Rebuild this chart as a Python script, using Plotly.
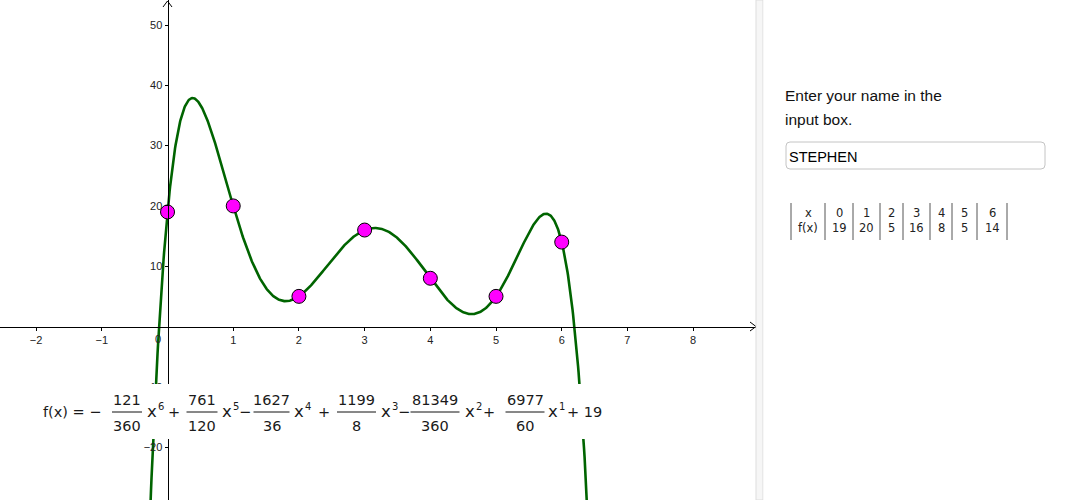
import numpy as np
import plotly.graph_objects as go

W, H = 1083, 500

# ---- data ----
x_pts = [0, 1, 2, 3, 4, 5, 6]
y_pts = [19, 20, 5, 16, 8, 5, 14]
coef_num = [-121, 761, -1627, 1199, -81349, 6977, 19]
coef_den = [360, 120, 36, 8, 360, 60, 1]
coef_pow = [6, 5, 4, 3, 2, 1, 0]
x_ticks = [-2, -1, 1, 2, 3, 4, 5, 6, 7, 8]
y_ticks = [-20, -10, 10, 20, 30, 40, 50]
table_x = ["x", "0", "1", "2", "3", "4", "5", "6"]
table_f = ["f(x)", "19", "20", "5", "16", "8", "5", "14"]
name_text = "STEPHEN"
prompt_lines = ["Enter your name in the", "input box."]

# curve of the function shown in the chart
xc = np.linspace(-0.35, 6.5, 900)
yc = np.zeros_like(xc)
for n, d, p in zip(coef_num, coef_den, coef_pow):
    yc += n / d * xc ** p


def px(v):
    return v / W


def py(v):
    return 1 - v / H


X_MIN, X_MAX = -2.55, 8.957
Y_MIN, Y_MAX = -28.77, 54.15
PLOT_R = 756  # pixel right edge of graphics view

fig = go.Figure()
fig.add_trace(go.Scatter(x=xc, y=yc, mode="lines",
                         line=dict(color="#006400", width=2.6),
                         hoverinfo="skip", showlegend=False))
fig.add_trace(go.Scatter(x=x_pts, y=y_pts, mode="markers",
                         marker=dict(size=14, color="#FF00FF",
                                     line=dict(color="#000000", width=1)),
                         hoverinfo="skip", showlegend=False))

axfont = dict(family="Liberation Sans, Arial, sans-serif", size=11, color="#222")
fig.update_layout(
    width=W, height=H,
    margin=dict(l=0, r=0, t=0, b=0),
    paper_bgcolor="white", plot_bgcolor="white",
    showlegend=False,
    xaxis=dict(domain=[0, PLOT_R / W], range=[X_MIN, X_MAX],
               anchor="free", position=py(326.5),
               showgrid=False, zeroline=False, showline=True,
               linecolor="black", linewidth=1,
               tickvals=x_ticks, ticks="outside", ticklen=3,
               tickcolor="black", tickfont=axfont, fixedrange=True),
    yaxis=dict(domain=[0, 1], range=[Y_MIN, Y_MAX],
               anchor="free", position=px(167.5),
               showgrid=False, zeroline=False, showline=True,
               linecolor="black", linewidth=1,
               tickvals=y_ticks, ticks="outside", ticklen=3,
               tickcolor="black", tickfont=axfont, fixedrange=True),
)

shapes = []
ann = []

# axis arrowheads (open chevrons)
shapes.append(dict(type="path", xref="paper", yref="paper", layer="above",
                   path=f"M {px(PLOT_R-6)} {py(326.5-4.5)} L {px(PLOT_R)} {py(326.5)} L {px(PLOT_R-6)} {py(326.5+4.5)}",
                   line=dict(color="black", width=1)))
shapes.append(dict(type="path", xref="paper", yref="paper", layer="above",
                   path=f"M {px(167.5-4.5)} {py(7)} L {px(167.5)} {py(1)} L {px(167.5+4.5)} {py(7)}",
                   line=dict(color="black", width=1)))

# origin label
ann.append(dict(x=px(157.5), y=py(339), xref="paper", yref="paper",
                text="0", showarrow=False, font=axfont,
                xanchor="center", yanchor="middle"))

# panel separator and right panel
shapes.append(dict(type="rect", xref="paper", yref="paper", layer="above",
                   x0=px(756), x1=px(763), y0=0, y1=1,
                   fillcolor="#f6f6f6", line=dict(color="#dddddd", width=1)))
shapes.append(dict(type="rect", xref="paper", yref="paper", layer="above",
                   x0=px(763.5), x1=1, y0=0, y1=1,
                   fillcolor="white", line=dict(width=0)))

pfont = dict(family="Liberation Sans, Arial, sans-serif", size=15.5, color="#111")
for i, t in enumerate(prompt_lines):
    ann.append(dict(x=px(784), y=py(96 + 23 * i), xref="paper", yref="paper",
                    text=t, showarrow=False, font=pfont, borderpad=0,
                    xanchor="left", yanchor="middle"))

# input box (rounded)
bx0, bx1, by0, by1, r = 786, 1045, 142, 169, 4
path = (f"M {px(bx0+r)} {py(by0)} L {px(bx1-r)} {py(by0)} "
        f"Q {px(bx1)} {py(by0)} {px(bx1)} {py(by0+r)} L {px(bx1)} {py(by1-r)} "
        f"Q {px(bx1)} {py(by1)} {px(bx1-r)} {py(by1)} L {px(bx0+r)} {py(by1)} "
        f"Q {px(bx0)} {py(by1)} {px(bx0)} {py(by1-r)} L {px(bx0)} {py(by0+r)} "
        f"Q {px(bx0)} {py(by0)} {px(bx0+r)} {py(by0)} Z")
shapes.append(dict(type="path", xref="paper", yref="paper", layer="above",
                   path=path, fillcolor="white",
                   line=dict(color="#c4c4c4", width=1)))
ann.append(dict(x=px(787.5), y=py(157), xref="paper", yref="paper",
                text=name_text, showarrow=False, borderpad=0,
                font=dict(family="Liberation Sans, Arial, sans-serif", size=14.5, color="#000"),
                xanchor="left", yanchor="middle"))

# value table
tfont = dict(family="DejaVu Sans, sans-serif", size=11.5, color="#222")
bars = [791, 825, 853, 880, 903, 930, 952, 977, 1007]
for b in bars:
    shapes.append(dict(type="line", xref="paper", yref="paper", layer="above",
                       x0=px(b), x1=px(b), y0=py(203), y1=py(240),
                       line=dict(color="#555", width=1)))
for i in range(len(table_x)):
    cx = (bars[i] + bars[i + 1]) / 2
    ann.append(dict(x=px(cx), y=py(213), xref="paper", yref="paper",
                    text=table_x[i], showarrow=False, font=tfont,
                    xanchor="center", yanchor="middle"))
    ann.append(dict(x=px(cx), y=py(227.5), xref="paper", yref="paper",
                    text=table_f[i], showarrow=False, font=tfont,
                    xanchor="center", yanchor="middle"))

# formula with white background
shapes.append(dict(type="rect", xref="paper", yref="paper", layer="above",
                   x0=px(38), x1=px(614), y0=py(384), y1=py(439),
                   fillcolor="white", line=dict(width=0)))
ffont = dict(family="DejaVu Sans, sans-serif", size=14.5, color="#1a1a1a")
xfont = dict(family="DejaVu Sans, sans-serif", size=16.5, color="#1a1a1a")
sfont = dict(family="DejaVu Sans, sans-serif", size=10, color="#1a1a1a")


def txt(x, y, t, font=ffont, anchor="center"):
    ann.append(dict(x=px(x), y=py(y), xref="paper", yref="paper", text=t,
                    showarrow=False, font=font, xanchor=anchor, yanchor="middle",
                    borderpad=0))


txt(42, 412, "f(x) = −", anchor="left")
frac_centers = [127, 202, 271.5, 356.5, 435, 525]
frac_widths = [30, 31, 36, 39, 49, 39]
x_pos = [146, 221, 293, 380, 464, 547]
signs_after = ["+", "−", "+", "−", "+", "+ 19"]
sign_x = [174, 244.5, 324, 404, 489, 566]
for i in range(6):
    c = frac_centers[i]
    txt(c, 400, str(abs(coef_num[i])))
    txt(c, 425.5, str(coef_den[i]))
    shapes.append(dict(type="line", xref="paper", yref="paper", layer="above",
                       x0=px(c - frac_widths[i] / 2), x1=px(c + frac_widths[i] / 2),
                       y0=py(412), y1=py(412), line=dict(color="#111", width=1)))
    txt(x_pos[i], 411, "x", font=xfont, anchor="left")
    txt(x_pos[i] + 10.5, 406, str(coef_pow[i]), font=sfont, anchor="left")
    txt(sign_x[i], 412, signs_after[i], anchor="center" if len(signs_after[i]) == 1 else "left")

fig.update_layout(shapes=shapes, annotations=ann)
fig.write_html("out.html", config={"displayModeBar": False},
               post_script="document.body.style.margin='0';document.body.style.padding='0';")
